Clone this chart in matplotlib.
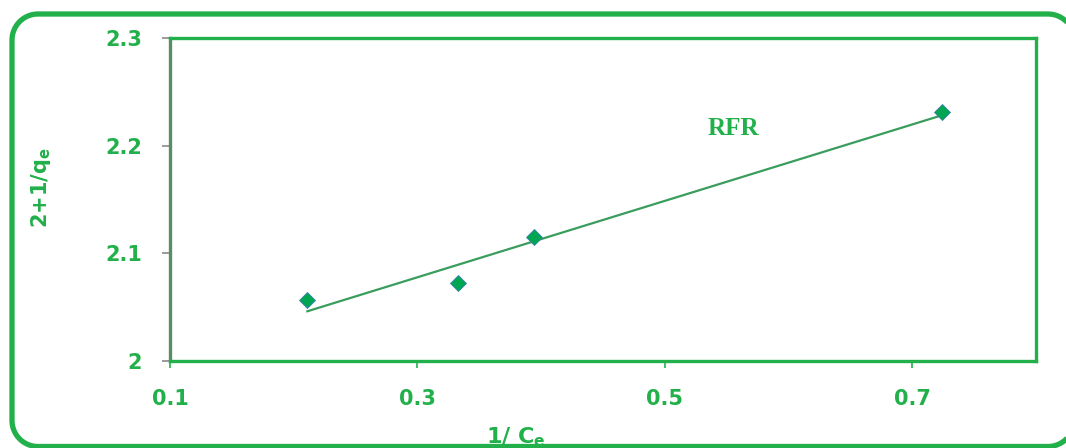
import matplotlib.pyplot as plt
import numpy as np
from matplotlib.patches import PathPatch
from matplotlib.path import Path
from matplotlib.transforms import Affine2D

green = '#22b04b'
mark_green = '#00a651'
line_green = '#3a9d5d'

# 1/Ce and 2+1/qe measurements
inv_ce = [0.211, 0.333, 0.394, 0.724]
inv_qe = [2.057, 2.072, 2.115, 2.231]
xticks = [0.1, 0.3, 0.5, 0.7]
yticks = [2.0, 2.1, 2.2, 2.3]
ytick_labels = ['2', '2.1', '2.2', '2.3']

W, H = 1066, 448
fig = plt.figure(figsize=(W / 100, H / 100), dpi=100)
ax = fig.add_axes([0.1595, 0.1942, 0.8124, 0.7210])

# least squares trend line over the data range
slope, icpt = np.polyfit(inv_ce, inv_qe, 1)
xs = np.array([min(inv_ce), max(inv_ce)])
ax.plot(xs, slope * xs + icpt, color=line_green, lw=1.6, zorder=2)
ax.plot(inv_ce, inv_qe, 'D', color=mark_green, markersize=8.5,
        markeredgecolor='#3b7fb0', markeredgewidth=0.6, zorder=3)

ax.set_xlim(0.1, 0.8)
ax.set_ylim(2.0, 2.3)
ax.set_xticks(xticks)
ax.set_xticklabels([str(t) for t in xticks])
ax.set_yticks(yticks)
ax.set_yticklabels(ytick_labels)

for side in ['top', 'right', 'bottom']:
    ax.spines[side].set_color(green)
    ax.spines[side].set_linewidth(2.4)
ax.spines['left'].set_color('#5a8c68')
ax.spines['left'].set_linewidth(2.4)

ax.tick_params(axis='y', direction='out', length=6, width=1.2, color='#8a8a8a', pad=14)
ax.tick_params(axis='x', direction='out', length=5, width=1.2, color=green, pad=15)
for lab in ax.get_xticklabels() + ax.get_yticklabels():
    lab.set_fontfamily('DejaVu Sans')
    lab.set_fontweight('bold')
    lab.set_fontsize(15)
    lab.set_color(green)

ax.text(0.555, 2.216, 'RFR', family='Liberation Serif', fontweight='bold',
        fontsize=18, color=green, ha='center', va='center')

fig.text(41 / W, 1 - 188 / H, r'2+1/q$_\mathregular{e}$', rotation=90, ha='center', va='center',
         family='DejaVu Sans', fontweight='bold', fontsize=15, color=green)
fig.text(516 / W, 1 - 437 / H, r'1/ C$_\mathregular{e}$', ha='center', va='center',
         family='DejaVu Sans', fontweight='bold', fontsize=16, color=green)

# rounded frame around the whole figure, built in pixel units
x0, x1, y0, y1, r = 12, 1074, 1.5, 434, 26
corners = [(x1 - r, y1 - r, 0), (x0 + r, y1 - r, 90),
           (x0 + r, y0 + r, 180), (x1 - r, y0 + r, 270)]
pts = []
for cx, cy, a0 in corners:
    t = np.radians(np.linspace(a0, a0 + 90, 20))
    pts += list(zip(cx + r * np.cos(t), cy + r * np.sin(t)))
pts.append(pts[0])
px = Affine2D().scale(1 / W, 1 / H) + fig.transFigure
frame = PathPatch(Path(pts), transform=px, fill=False,
                  edgecolor=green, lw=3.8, zorder=10)
fig.patches.append(frame)

fig.savefig('out.png', dpi=100)
